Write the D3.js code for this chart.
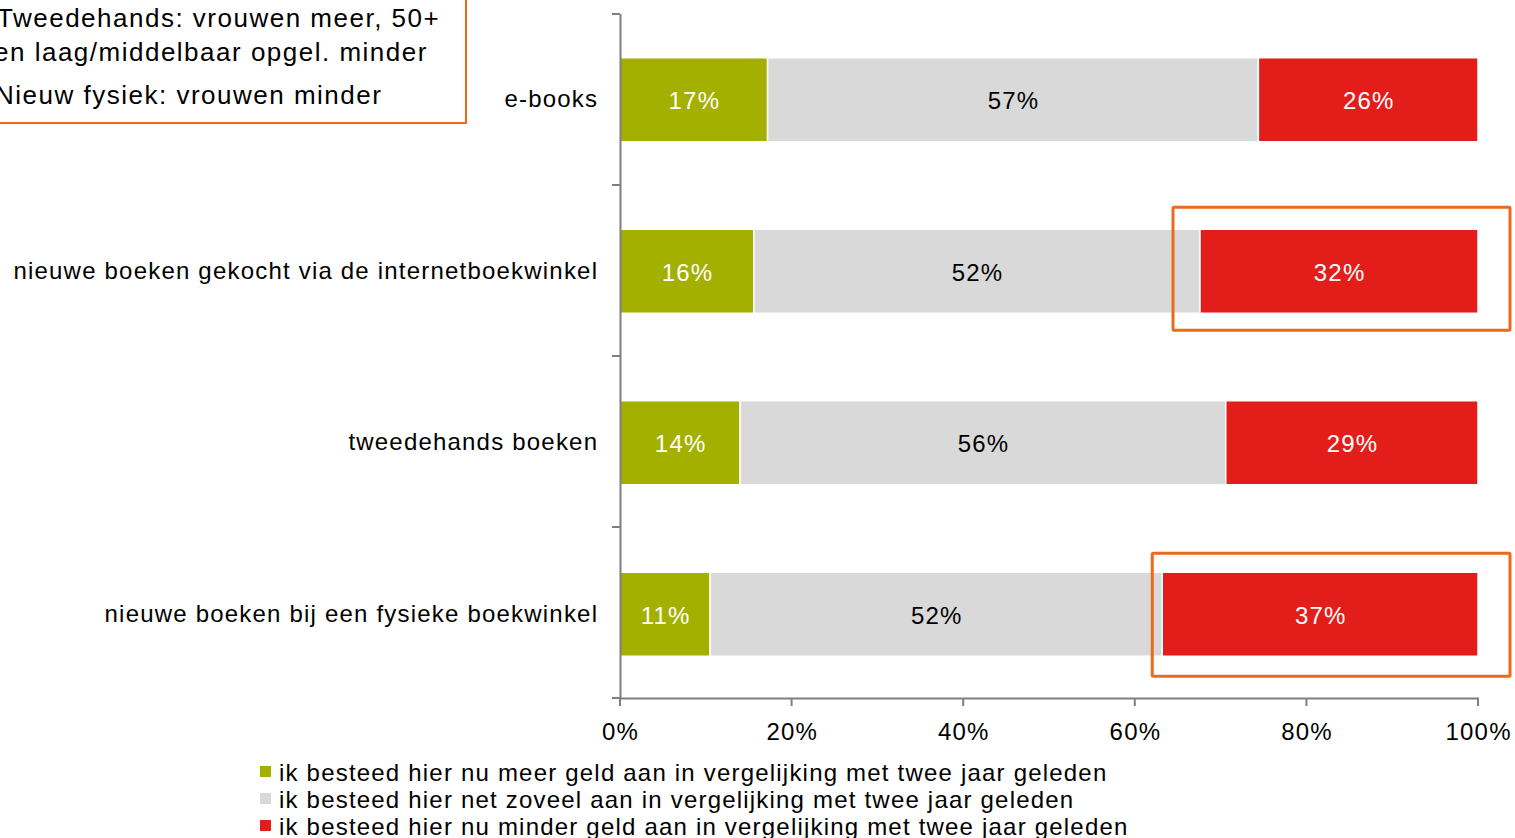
<!DOCTYPE html>
<html><head><meta charset="utf-8">
<script src="https://cdn.jsdelivr.net/npm/d3@7"></script>
<style>
html,body{margin:0;padding:0;background:#fff;}
svg{display:block;font-family:"Liberation Sans",Arial,sans-serif;}
</style></head>
<body>
<svg id="chart" width="1515" height="838"></svg>
<script>
const categories = ["e-books","nieuwe boeken gekocht via de internetboekwinkel","tweedehands boeken","nieuwe boeken bij een fysieke boekwinkel"];
const meer = [17.2, 15.6, 14.0, 10.5];
const zoveel = [57.2, 52.0, 56.6, 52.7];
const minder = [25.6, 32.4, 29.4, 36.8];
const meerLabels = ["17%","16%","14%","11%"];
const zoveelLabels = ["57%","52%","56%","52%"];
const minderLabels = ["26%","32%","29%","37%"];
const seriesNames = ["ik besteed hier nu meer geld aan in vergelijking met twee jaar geleden",
  "ik besteed hier net zoveel aan in vergelijking met twee jaar geleden",
  "ik besteed hier nu minder geld aan in vergelijking met twee jaar geleden"];
const tickValues = [0,20,40,60,80,100];
const highlighted = ["nieuwe boeken gekocht via de internetboekwinkel","nieuwe boeken bij een fysieke boekwinkel"];
const noteLines = ["Tweedehands: vrouwen meer, 50+","en laag/middelbaar opgel. minder","Nieuw fysiek: vrouwen minder"];

const colors = ["#A3B000","#D9D9D9","#E31E1A"];
const textColors = ["#fff","#000","#fff"];
const LS = 1.2;
const svg = d3.select("#chart");
const x = d3.scaleLinear().domain([0,100]).range([620,1478]);
const y = d3.scaleBand().domain(categories).range([14,700]).paddingInner(0.51).paddingOuter(0.255);

const rows = categories.map((c,i)=>({cat:c, vals:[meer[i],zoveel[i],minder[i]], labels:[meerLabels[i],zoveelLabels[i],minderLabels[i]]}));
const stack = d3.stack().keys([0,1,2]).value((d,k)=>d.vals[k]);
const stacked = stack(rows);

stacked.forEach((layer,k)=>{
  const g = svg.append("g");
  g.selectAll("rect").data(layer).join("rect")
    .attr("x", d=>x(d[0]))
    .attr("y", d=>y(d.data.cat))
    .attr("width", d=>x(d[1])-x(d[0]))
    .attr("height", y.bandwidth())
    .attr("fill", colors[k])
    .attr("stroke","#fff").attr("stroke-width",1.5);
  g.selectAll("text").data(layer).join("text")
    .attr("x", d=>(x(d[0])+x(d[1]))/2 + LS/2)
    .attr("y", d=>y(d.data.cat)+y.bandwidth()/2+1)
    .attr("dy","0.36em")
    .attr("text-anchor","middle")
    .attr("font-size",24).attr("letter-spacing",LS)
    .attr("fill",textColors[k])
    .text(d=>d.data.labels[k]);
});

// y axis
const yAxis = svg.append("g");
yAxis.append("line").attr("x1",620.5).attr("x2",620.5).attr("y1",14).attr("y2",699).attr("stroke","#7f7f7f").attr("stroke-width",2);
const boundaries = d3.range(categories.length+1).map(i=>14+i*((698-14)/categories.length));
yAxis.selectAll("line.t").data(boundaries).join("line").attr("class","t")
  .attr("x1",612).attr("x2",620).attr("y1",d=>d).attr("y2",d=>d).attr("stroke","#7f7f7f").attr("stroke-width",2);
yAxis.selectAll("text").data(categories).join("text")
  .attr("x",597+LS).attr("y",d=>y(d)+y.bandwidth()/2-1).attr("dy","0.36em")
  .attr("text-anchor","end").attr("font-size",24).attr("letter-spacing",LS).attr("fill","#000").text(d=>d);

// x axis
const xAxis = svg.append("g");
xAxis.append("line").attr("x1",620).attr("x2",1479).attr("y1",698.5).attr("y2",698.5).attr("stroke","#7f7f7f").attr("stroke-width",2);
xAxis.selectAll("line.t").data(tickValues).join("line").attr("class","t")
  .attr("x1",d=>x(d)).attr("x2",d=>x(d)).attr("y1",698).attr("y2",706).attr("stroke","#7f7f7f").attr("stroke-width",2);
xAxis.selectAll("text").data(tickValues).join("text")
  .attr("x",d=>x(d)+LS/2).attr("y",740).attr("text-anchor","middle").attr("font-size",24).attr("letter-spacing",LS).attr("fill","#000").text(d=>d+"%");

// highlight boxes (annotation around the "minder" segment)
const boxPad = [{l:27, t:22, b:17}, {l:10, t:19, b:20}];
svg.selectAll("rect.hl").data(highlighted).join("rect").attr("class","hl")
  .attr("x",(d,i)=>x(100-minder[categories.indexOf(d)])-boxPad[i].l)
  .attr("y",(d,i)=>y(d)-boxPad[i].t)
  .attr("width",(d,i)=>1510-(x(100-minder[categories.indexOf(d)])-boxPad[i].l))
  .attr("height",(d,i)=>y.bandwidth()+boxPad[i].t+boxPad[i].b)
  .attr("fill","none").attr("stroke","#EC6A1C").attr("stroke-width",3).attr("rx",1);

// legend
const leg = svg.append("g");
seriesNames.forEach((n,i)=>{
  const yy = 772+i*27;
  leg.append("rect").attr("x",260).attr("y",yy-6).attr("width",11).attr("height",11).attr("fill",colors[i]);
  leg.append("text").attr("x",279).attr("y",yy).attr("dy","0.36em").attr("font-size",24).attr("letter-spacing",LS).attr("fill","#000").text(n);
});

// note box
svg.append("rect").attr("x",-10).attr("y",-3).attr("width",476).attr("height",126)
  .attr("fill","#fff").attr("stroke","#EC6A1C").attr("stroke-width",2);
noteLines.forEach((t,i)=>{
  svg.append("text").attr("x",[-3,-6,-5][i]).attr("y",[18,52,95][i]).attr("dy","0.36em").attr("font-size",26).attr("letter-spacing",1.5).attr("fill","#000").text(t);
});
</script>
</body></html>
